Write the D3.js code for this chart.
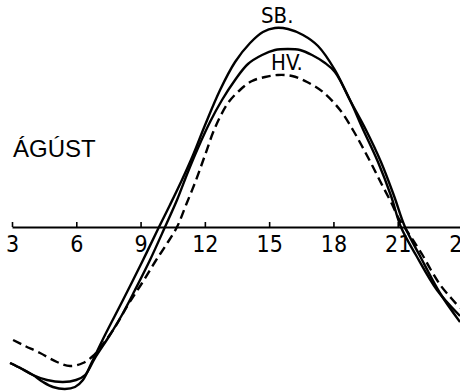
<!DOCTYPE html>
<html lang="is">
<head>
<meta charset="UTF-8">
<title>Ágúst</title>
<script src="https://d3js.org/d3.v7.min.js"></script>
<style>
    body { margin: 0; padding: 0; background: #fff; }
    svg { display: block; }
    .axis path, .axis line { stroke: #000; }
    .axis path { stroke-width: 2px; }
    .axis line { stroke-width: 1.6px; }
    .axis text {
        font-family: "Liberation Sans Narrow", "DejaVu Sans Condensed", "Liberation Sans", sans-serif;
        font-size: 23px;
        fill: #000;
    }
    .label {
        font-family: "Liberation Sans", "DejaVu Sans", sans-serif;
        fill: #000;
    }
    .narrow { font-family: "Liberation Sans Narrow", "DejaVu Sans Condensed", "Liberation Sans", sans-serif; }
</style>
</head>
<body>
<svg id="chart" width="460" height="391"></svg>
<script>
    // klukkustund (x) og frávik (y, handahófskenndar einingar) lesið af myndinni
    const tickHours = [3, 6, 9, 12, 15, 18, 21, 24];

    const sbHours = [2.91, 3.47, 3.98, 4.45, 4.91, 5.47, 5.94, 6.31, 6.73, 7.34, 8.18, 9.07, 9.86, 10.37, 10.93, 11.45, 12.01, 12.71, 13.41, 14.11, 14.71, 15.27, 15.88, 16.58, 17.28, 18.07, 18.77, 19.52, 20.22, 20.83, 21.34, 22.04, 22.97, 23.91];
    const sbValues = [-6.8, -7.1, -7.4, -7.75, -8.0, -8.1, -8.0, -7.65, -6.75, -5.4, -3.65, -1.75, 0, 1.1, 2.35, 3.6, 5.1, 6.85, 8.25, 9.2, 9.75, 9.95, 9.9, 9.6, 9.05, 7.85, 6.35, 4.85, 3.25, 1.55, 0, -1.45, -3.3, -4.75];

    const hvHours = [2.91, 3.47, 3.98, 4.63, 5.38, 5.99, 6.41, 6.87, 7.57, 8.13, 8.74, 9.44, 10.14, 10.70, 11.21, 11.68, 12.24, 12.80, 13.41, 14.01, 14.67, 15.27, 15.88, 16.44, 17.00, 17.61, 18.07, 18.77, 19.33, 20.08, 20.69, 21.15, 21.85, 22.83, 23.91];
    const hvValues = [-6.8, -7.1, -7.4, -7.65, -7.75, -7.65, -7.4, -6.55, -5.4, -4.4, -3.15, -1.65, 0, 1.35, 2.75, 3.95, 5.25, 6.35, 7.35, 8.15, 8.6, 8.85, 8.9, 8.85, 8.6, 8.2, 7.75, 6.35, 5.0, 3.25, 1.55, 0, -1.4, -3.15, -4.45];

    const dashHours = [3.05, 3.61, 4.31, 5.10, 5.71, 6.31, 6.78, 7.25, 7.81, 8.41, 9.07, 9.67, 10.19, 10.70, 11.12, 11.59, 12.01, 12.47, 13.08, 13.64, 14.20, 14.81, 15.41, 16.07, 16.77, 17.51, 18.31, 18.91, 19.33, 19.80, 20.27, 20.73, 21.01, 21.34, 21.71, 22.13, 22.55, 23.02, 23.49, 23.91];
    const dashValues = [-5.65, -5.95, -6.3, -6.75, -6.95, -6.8, -6.45, -5.85, -5.0, -3.9, -2.8, -1.75, -0.9, 0, 1.1, 2.35, 3.6, 4.95, 6.2, 6.85, 7.3, 7.5, 7.6, 7.55, 7.25, 6.75, 5.85, 4.85, 4.05, 3.1, 2.1, 1.15, 0.5, -0.05, -0.65, -1.35, -2.15, -2.95, -3.55, -4.05];

    const svg = d3.select("#chart");

    const x = d3.scaleLinear().domain([3, 24]).range([12, 462]);
    const y = d3.scaleLinear().domain([0, 10]).range([227, 27]);

    // ás
    svg.append("g")
        .attr("class", "axis")
        .attr("transform", `translate(0,${y(0)})`)
        .call(d3.axisBottom(x)
            .tickValues(tickHours)
            .tickFormat(d3.format("d"))
            .tickSizeInner(-5)
            .tickSizeOuter(0)
            .tickPadding(9));

    const line = d3.line()
        .x(d => x(d[0]))
        .y(d => y(d[1]))
        .curve(d3.curveCatmullRom.alpha(0.5));

    const series = [
        { hours: sbHours, values: sbValues, dash: null },
        { hours: hvHours, values: hvValues, dash: null },
        { hours: dashHours, values: dashValues, dash: "9,5" }
    ];

    series.forEach(s => {
        svg.append("path")
            .datum(d3.zip(s.hours, s.values))
            .attr("d", line)
            .attr("fill", "none")
            .attr("stroke", "#000")
            .attr("stroke-width", 2.4)
            .attr("stroke-dasharray", s.dash);
    });

    // textar
    svg.append("text")
        .attr("class", "label")
        .attr("x", 13)
        .attr("y", 157)
        .attr("font-size", 24)
        .text("ÁGÚST");

    svg.append("text")
        .attr("class", "label narrow")
        .attr("x", 261)
        .attr("y", 23)
        .attr("font-size", 22)
        .text("SB.");

    svg.append("text")
        .attr("class", "label narrow")
        .attr("x", 271)
        .attr("y", 70)
        .attr("font-size", 22)
        .text("HV.");
</script>
</body>
</html>
